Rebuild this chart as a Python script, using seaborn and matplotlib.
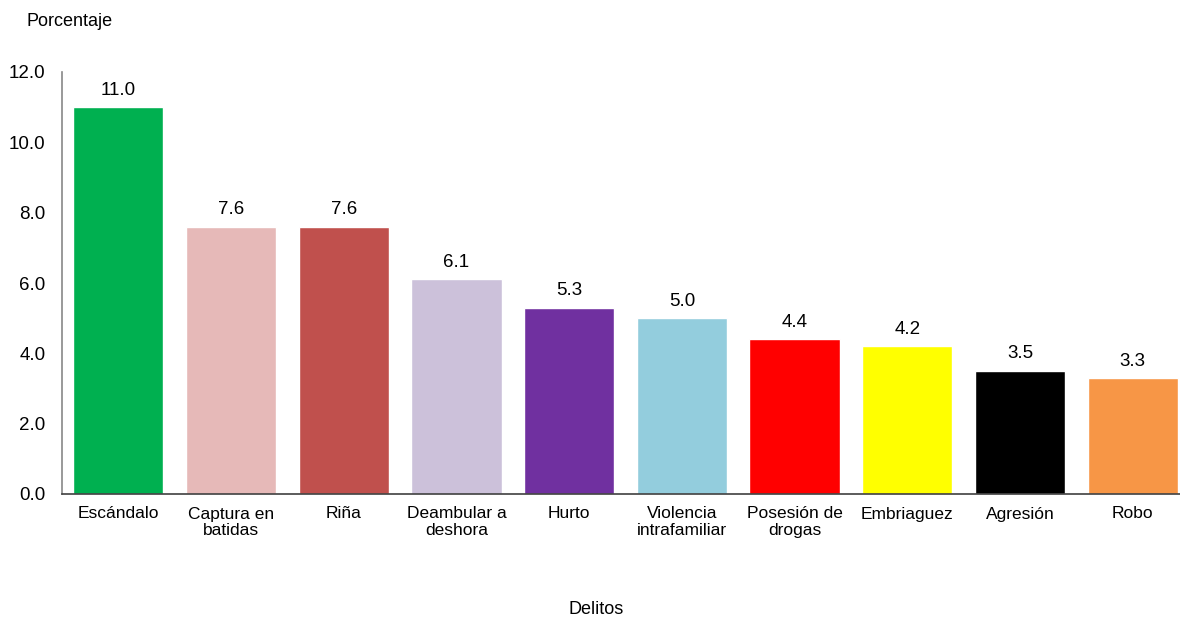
import matplotlib
matplotlib.use("Agg")
import matplotlib.pyplot as plt
import seaborn as sns
import pandas as pd

categories = ["Escándalo", "Captura en\nbatidas", "Riña", "Deambular a\ndeshora", "Hurto",
              "Violencia\nintrafamiliar", "Posesión de\ndrogas", "Embriaguez", "Agresión", "Robo"]
values = [11.0, 7.6, 7.6, 6.1, 5.3, 5.0, 4.4, 4.2, 3.5, 3.3]
colors = ["#00B050", "#E6B9B8", "#C0504D", "#CCC1DA", "#7030A0",
          "#93CDDD", "#FF0000", "#FFFF00", "#000000", "#F79646"]
yticks = [0, 2, 4, 6, 8, 10, 12]

sns.set_style("white")
plt.rcParams['font.family'] = ['Liberation Sans', 'DejaVu Sans']
plt.rcParams['text.color'] = 'black'
plt.rcParams['xtick.color'] = 'black'
plt.rcParams['ytick.color'] = 'black'

df = pd.DataFrame({"cat": categories, "val": values})

fig = plt.figure(figsize=(11.8, 6.18), dpi=100)
ax = fig.add_axes([62/1180, 1 - 494/618, (1180-62)/1180, (494-72)/618])
sns.barplot(data=df, x="cat", y="val", hue="cat", palette=colors, legend=False,
            width=0.8, saturation=1, ax=ax)

ax.set_ylim(0, 12)
ax.set_xlim(-0.5, 9.42)
ax.set_yticks(yticks)
ax.set_yticklabels([f"{v:.1f}" for v in yticks], fontsize=13.5)
ax.tick_params(axis='x', labelsize=12.5, length=0, pad=9)
ax.tick_params(axis='y', length=0, pad=12)
for lbl in ax.get_xticklabels():
    lbl.set_linespacing(1.15)
    lbl.set_verticalalignment('top')

for i, v in enumerate(values):
    ax.text(i, v + 0.24, f"{v:.1f}", ha='center', va='bottom', fontsize=13.5)

for s in ["top", "right"]:
    ax.spines[s].set_visible(False)
ax.spines["left"].set_color("#888888")
ax.spines["bottom"].set_color("#404040")
ax.spines["left"].set_linewidth(1.2)
ax.spines["bottom"].set_linewidth(1.2)

ax.set_xlabel("")
ax.set_ylabel("")
fig.text(26/1180, 1 - 21/618, "Porcentaje", fontsize=13, ha='left', va='center')
fig.text(596/1180, 1 - 610/618, "Delitos", fontsize=13, ha='center', va='center')

fig.savefig("out.png", dpi=100)
